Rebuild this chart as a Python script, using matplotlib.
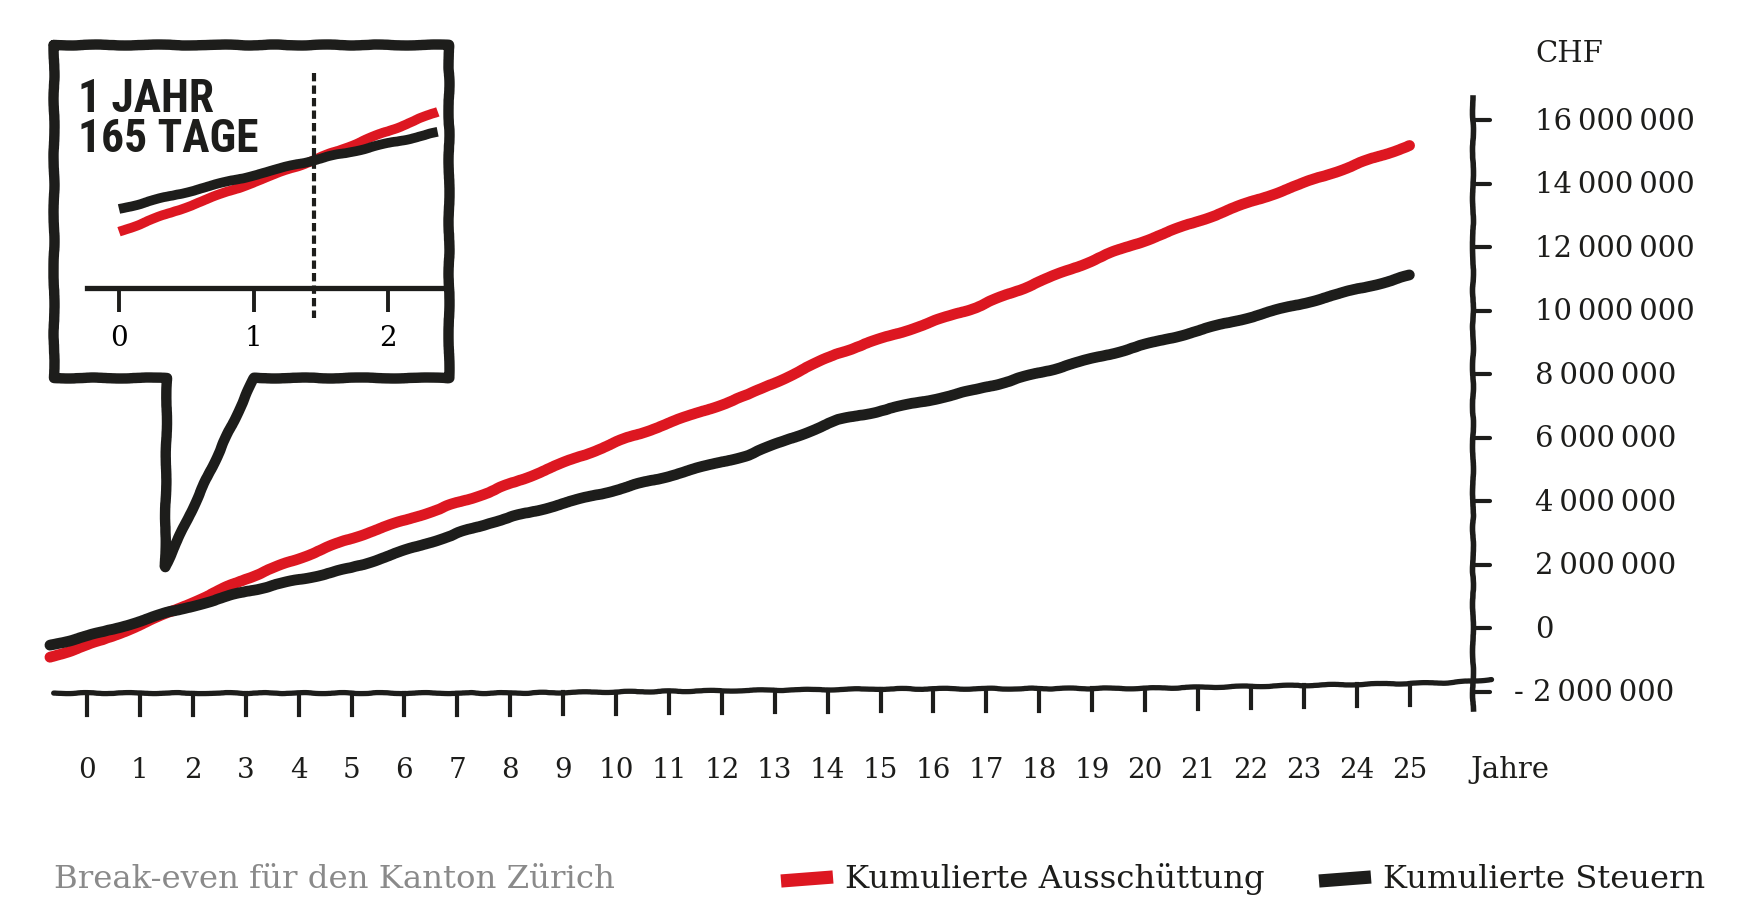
import numpy as np
import matplotlib
matplotlib.use("Agg")
import matplotlib.pyplot as plt
from matplotlib import font_manager

# Hauptgrafik: kumulierte Werte in Mio. CHF
years = [-0.7, 0.3, 1.5, 3, 5, 7.6, 10.2, 12.5, 14.2, 16.8, 19.4, 22, 25]
ausschuettung = [-0.92, -0.38, 0.45, 1.55, 2.83, 4.28, 5.98, 7.34, 8.66, 10.1, 11.84, 13.42, 15.2]
steuern = [-0.54, -0.13, 0.47, 1.15, 1.89, 3.31, 4.44, 5.45, 6.55, 7.5, 8.66, 9.8, 11.1]

x_ticks = list(range(0, 26))
y_ticks = [-2, 0, 2, 4, 6, 8, 10, 12, 14, 16]
y_labels = ["- 2 000 000", "0", "2 000 000", "4 000 000", "6 000 000", "8 000 000",
            "10 000 000", "12 000 000", "14 000 000", "16 000 000"]

# Lupe: Break-even nach 1 Jahr 165 Tagen
inset_years = [0, 1.45, 2.37]
inset_ausschuettung = [-0.55, 0.46, 1.14]
inset_steuern = [-0.23, 0.46, 0.85]
inset_ticks = [0, 1, 2]
break_even = 1 + 165 / 365

RED = "#dd1721"
BLACK = "#1d1d1b"
GREY = "#8a8a8a"
SERIF = "DejaVu Serif"

names = {f.name for f in font_manager.fontManager.ttflist}
stamp_family = next((n for n in ["Liberation Sans Narrow", "Roboto Condensed"] if n in names), "DejaVu Sans")

W, H = 1750, 924
fig = plt.figure(figsize=(17.5, 9.24), dpi=100)


def px_box(left, top, right, bottom):
    return [left / W, 1 - bottom / H, (right - left) / W, (bottom - top) / H]


def sketch(artist, s=0.6, l=80, r=5):
    artist.set_sketch_params(s, l, r)
    return artist


# --- main axes -------------------------------------------------------------
X0, PXY = 87, 52.9        # px of year 0, px per year
Y0, PXM = 628, 31.75      # px of 0 CHF, px per million
L, R, T, B = 30, 1473, 90, 720
ax = fig.add_axes(px_box(L, T, R, B))
ax.set_xlim((L - X0) / PXY, (R - X0) / PXY)
ax.set_ylim((Y0 - B) / PXM, (Y0 - T) / PXM)
ax.axis("off")

x_right = (R - X0) / PXY

for vals, col in [(ausschuettung, RED), (steuern, BLACK)]:
    ln, = ax.plot(years, vals, color=col, lw=7.8, solid_capstyle="round", zorder=3)
    sketch(ln, 0.7, 90, 4)

# hand-drawn x axis (slightly rising to the right)
axis_x = [-0.63, 8, 15, 20, 25.8, x_right + 0.35]
axis_y = [-2.05, -2.05, -1.92, -1.9, -1.72, -1.62]
ln, = ax.plot(axis_x, axis_y, color=BLACK, lw=3.8, solid_capstyle="round", clip_on=False)
sketch(ln, 0.5, 60, 4)
tick_len = 22 / PXM
for xt in x_ticks:
    top = np.interp(xt, axis_x, axis_y)
    ax.plot([xt, xt], [top, top - tick_len], color=BLACK, lw=3.0, clip_on=False)
    ax.text(xt, (Y0 - 770) / PXM, str(xt), ha="center", va="center",
            fontsize=20, family=SERIF, color=BLACK)
ax.text((1510 - X0) / PXY, (Y0 - 770) / PXM, "Jahre", ha="center", va="center",
        fontsize=21, family=SERIF, color=BLACK)

# y axis on the right
ln, = ax.plot([x_right, x_right], [(Y0 - 98) / PXM, (Y0 - 709) / PXM], color=BLACK,
              lw=4.0, clip_on=False)
sketch(ln, 0.5, 60, 4)
for yt, lab in zip(y_ticks, y_labels):
    ax.plot([x_right, x_right + 17 / PXY], [yt, yt], color=BLACK, lw=3.0,
            solid_capstyle="round", clip_on=False)
    xl = (1514 - X0) / PXY if yt < 0 else (1535 - X0) / PXY
    txt = lab.replace(" ", "\u2009") if yt >= 0 else "- " + lab[2:].replace(" ", "\u2009")
    ax.text(xl, yt - 0.05, txt, ha="left", va="center", fontsize=21, family=SERIF,
            color=BLACK, clip_on=False)
ax.text((1535 - X0) / PXY, (Y0 - 54) / PXM, "CHF", ha="left", va="center",
        fontsize=21, family=SERIF, color=BLACK, clip_on=False)

# --- speech bubble ---------------------------------------------------------
over = fig.add_axes([0, 0, 1, 1], facecolor="none")
over.set_xlim(0, W)
over.set_ylim(H, 0)
over.axis("off")
bx = [54, 449, 449, 254, 165, 167, 54, 54]
by = [45, 45, 378, 378, 567, 378, 378, 45]
over.fill(bx, by, color="white", zorder=1)
ln, = over.plot(bx, by, color=BLACK, lw=7.5, solid_joinstyle="round", solid_capstyle="round", zorder=2)
sketch(ln, 0.5, 80, 4)

# legend and source line
over.plot([781, 833], [881, 877], color=RED, lw=9.5, solid_capstyle="butt")
over.plot([1319, 1371], [881, 877], color=BLACK, lw=9.5, solid_capstyle="butt")
over.text(845, 879, "Kumulierte Ausschüttung", ha="left", va="center",
          fontsize=23.3, family=SERIF, color=BLACK)
over.text(1383, 879, "Kumulierte Steuern", ha="left", va="center",
          fontsize=23.1, family=SERIF, color=BLACK)
over.text(54, 879, "Break-even für den Kanton Zürich", ha="left", va="center",
          fontsize=23.3, family=SERIF, color=GREY)

# stamp text, fitted to its width in the reference
t1 = over.text(78, 112, "1 JAHR", ha="left", va="baseline", fontsize=34,
               family=stamp_family, weight="bold", color=BLACK)
t2 = over.text(78, 152, "165 TAGE", ha="left", va="baseline", fontsize=34,
               family=stamp_family, weight="bold", color=BLACK)
fig.canvas.draw()
w = t2.get_window_extent(fig.canvas.get_renderer()).width
fs = min(34 * 181 / w, 36)
t1.set_fontsize(fs)
t2.set_fontsize(fs)

# --- inset axes inside the bubble -------------------------------------------
IX0, IPXY = 119, 134.5
IY0, IPXM, IM0 = 160, 71, 0.46
il, ir, it, ib = 62, 445, 52, 372
ins = fig.add_axes(px_box(il, it, ir, ib), facecolor="none")
ins.set_xlim((il - IX0) / IPXY, (ir - IX0) / IPXY)
ins.set_ylim(IM0 - (ib - IY0) / IPXM, IM0 + (IY0 - it) / IPXM)
for s in ["top", "left", "right"]:
    ins.spines[s].set_visible(False)
base = IM0 - (288 - IY0) / IPXM
ins.spines["bottom"].set_position(("data", base))
ins.spines["bottom"].set_bounds((87 - IX0) / IPXY, (ir - IX0) / IPXY)
ins.spines["bottom"].set_linewidth(3.8)
ins.spines["bottom"].set_color(BLACK)
ins.set_yticks([])
ins.set_xticks(inset_ticks)
ins.tick_params(axis="x", direction="out", length=17, width=2.8, color=BLACK,
                pad=10, labelsize=20)
for lab in ins.get_xticklabels():
    lab.set_family(SERIF)
for vals, col in [(inset_ausschuettung, RED), (inset_steuern, BLACK)]:
    ln, = ins.plot(inset_years, vals, color=col, lw=7.0, solid_capstyle="butt")
    sketch(ln, 0.6, 80, 4)
ins.plot([break_even, break_even], [IM0 + (IY0 - 73) / IPXM, IM0 - (318 - IY0) / IPXM],
         color=BLACK, lw=3.0, dashes=(2.0, 1.0), clip_on=False)

fig.savefig("out.png", dpi=100)
